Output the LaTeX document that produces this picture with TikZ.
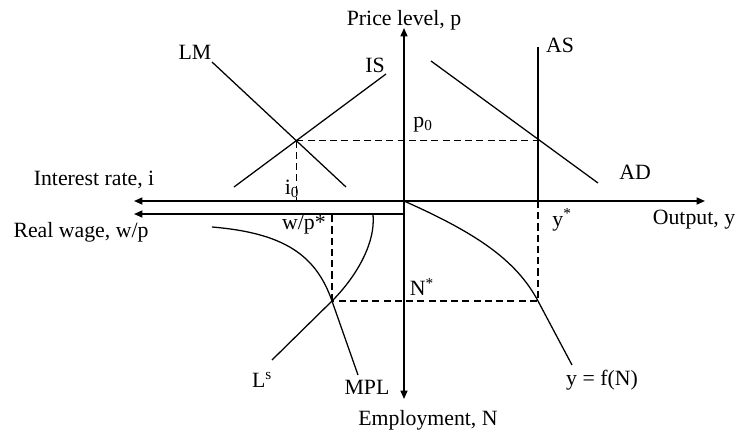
\documentclass[tikz,border=0pt]{standalone}
\usepackage{fontspec}
\setmainfont{Liberation Serif}
\usetikzlibrary{arrows.meta, intersections}

\begin{document}
\begin{tikzpicture}[font=\fontsize{15.5}{18}\selectfont,
  axisline/.style={line width=1.1pt},
  tip/.style={-{Triangle[length=6pt,width=5pt]}},
  curve/.style={line width=0.9pt},
  guide/.style={line width=1.1pt, dash pattern=on 5pt off 3pt}]

\useasboundingbox (-10.1,-5.85) rectangle (8.35,5.025);

% Axis end points
\coordinate (O) at (0,0);
\coordinate (ptop) at (0,4.325);
\coordinate (nbot) at (0,-4.95);
\coordinate (iend) at (-6.75,0);
\coordinate (yend) at (7.525,0);
\coordinate (wstart) at (0,-0.325);
\coordinate (wend) at (-6.75,-0.325);

% Axes
\draw[axisline, {Triangle[length=6pt,width=5pt]}-{Triangle[length=6pt,width=5pt]}] (nbot) -- (ptop);
\draw[axisline, {Triangle[length=6pt,width=5pt]}-{Triangle[length=6pt,width=5pt]}] (iend) -- (yend);
\draw[axisline, tip] (wstart) -- (wend);

% Axis labels
\node (plabel) at (0,4.525) {Price level, p};
\node (ilabel) at (-7.75,0.525) {Interest rate, i};
\node (wlabel) at (-8.075,-0.775) {Real wage, w/p};
\node (ylabel) at (7.25,-0.475) {Output, y};
\node (nlabel) at (0.6,-5.475) {Employment, N};

% IS-LM
\draw[curve, name path=lm] (-4.8,3.475) -- (-1.45,0.35);
\draw[curve, name path=is] (-4.25,0.35) -- (-0.45,3.175);
\path[name intersections={of=lm and is, by=eqi}];
\node (lmlabel) at (-5.225,3.725) {LM};
\node (islabel) at (-0.725,3.4) {IS};

% AS-AD
\draw[curve] (3.35,3.85) -- (3.35,0);
\draw[curve] (0.675,3.5) -- (4.85,0.45);
\node (aslabel) at (3.9,3.9) {AS};
\node (adlabel) at (5.775,0.725) {AD};

% Production function
\draw[curve] (O) .. controls (1.8,-0.8) and (2.8,-1.47) .. (3.35,-2.5) -- (4.2,-4.1);
\node (flabel) at (4.95,-4.475) {y = f(N)};

% Labour market
\draw[curve] (-4.8,-0.65) .. controls (-3,-0.8) and (-2.2,-1.35) .. (-1.8,-2.5) -- (-1.15,-4.35);
\draw[curve] (-0.775,-0.325) .. controls (-0.7,-1.1) and (-1.25,-1.95) .. (-1.8,-2.5) -- (-3.3,-3.975);
\node (lslabel) at (-3.55,-4.475) {L\textsuperscript{s}};
\node (mpllabel) at (-0.925,-4.65) {MPL};

% Equilibrium guides
\coordinate (eqy) at (3.35,-2.5);
\coordinate (eqn) at (-1.8,-2.5);
\draw[guide] (eqi) -- (eqi -| eqy);
\draw[guide] (eqi) -- (eqi |- O);
\draw[guide] (3.35,0) -- (eqy) -- (eqn);
\draw[guide] (eqn) -- (eqn |- wstart);

% Equilibrium labels
\node (plev) at (0.475,1.9) {p\textsubscript{0}};
\node (ilev) at (-2.8,0.3) {i\textsubscript{0}};
\node (ystar) at (3.95,-0.475) {y\textsuperscript{*}};
\node (nstar) at (0.45,-2.15) {N\textsuperscript{*}};
\node (wstar) at (-2.5,-0.6) {w/p*};

\end{tikzpicture}
\end{document}
